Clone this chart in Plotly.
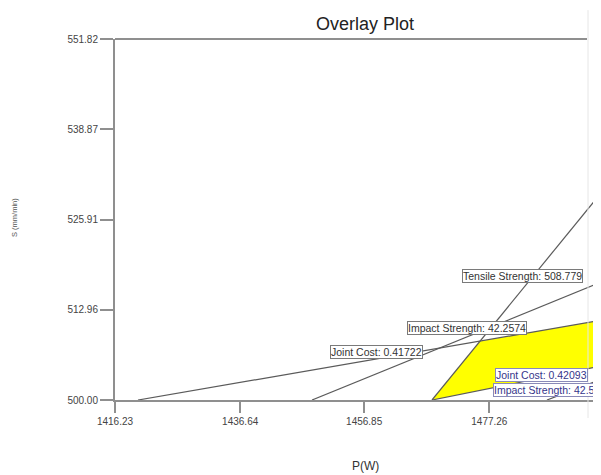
import plotly.graph_objects as go

# ---------------- data ----------------
x_ticks = [1416.23, 1436.64, 1456.85, 1477.26, 1497.67]
y_ticks = [500.00, 512.96, 525.91, 538.87, 551.82]
x_range = [1416.23, 1495.46]
y_range = [500.00, 551.82]

# contour lines of the overlay plot (P(W), S)
joint_cost_lo_x = [1419.98, 1495.46]
joint_cost_lo_y = [500.00, 511.44]
joint_cost_hi_x = [1467.91, 1495.46]
joint_cost_hi_y = [500.00, 504.87]
tensile_x = [1467.91, 1495.46]
tensile_y = [500.00, 529.72]
impact_lo_x = [1448.35, 1495.46]
impact_lo_y = [500.00, 516.91]
impact_hi_x = [1486.65, 1495.46]
impact_hi_y = [500.00, 502.95]

# feasible (yellow) region
region_x = [1467.91, 1475.74, 1495.46, 1495.46, 1467.91]
region_y = [500.00, 508.45, 511.44, 504.87, 500.00]

# flag labels
flag_texts = ["Tensile Strength: 508.779", "Impact Strength: 42.2574",
              "Joint Cost: 0.41722", "Joint Cost: 0.42093",
              "Impact Strength: 42.5533"]
flag_x = [1472.80, 1463.83, 1451.28, 1478.18, 1477.85]
flag_y = [517.78, 510.29, 506.91, 503.60, 501.37]
flag_selected = [False, False, False, True, True]

title = "Overlay Plot"
x_title = "P(W)"
y_title = "S (mm/min)"

# ---------------- figure ----------------
PAGE = 8                      # default body margin of the page
W, H = 601 - PAGE, 475 - PAGE
ML, MR, MT, MB = 115 - PAGE, 0, 39 - PAGE, 75
FONT = "Arial, Liberation Sans, sans-serif"
AX = "#8f8f8f"
LINE = "#5a5a5a"

plot_w = W - ML - MR
plot_h = H - MT - MB

fig = go.Figure()
fig.add_trace(go.Scatter(x=region_x, y=region_y, mode="lines", fill="toself",
                         fillcolor="#ffff00", line=dict(width=0), hoverinfo="skip",
                         showlegend=False))
for xs, ys in [(joint_cost_lo_x, joint_cost_lo_y), (joint_cost_hi_x, joint_cost_hi_y),
               (tensile_x, tensile_y), (impact_lo_x, impact_lo_y),
               (impact_hi_x, impact_hi_y)]:
    fig.add_trace(go.Scatter(x=xs, y=ys, mode="lines",
                             line=dict(color=LINE, width=1.2),
                             hoverinfo="skip", showlegend=False))

for t, fx, fy, sel in zip(flag_texts, flag_x, flag_y, flag_selected):
    fig.add_annotation(x=fx, y=fy, xref="x", yref="y", text=t, showarrow=False,
                       xanchor="left", yanchor="middle",
                       font=dict(family=FONT, size=10.5,
                                 color="#35358a" if sel else "#333333"),
                       bgcolor="white",
                       bordercolor="#8a8ab8" if sel else "#7a7a7a",
                       borderwidth=1, borderpad=0)

x_scale = plot_w / (x_range[1] - x_range[0])

# tick label of the last (off-range) tick, partly visible at the right edge
last_px = (x_ticks[-1] - x_range[0]) * x_scale
fig.add_annotation(x=last_px / plot_w, y=-0.06, xref="paper", yref="paper",
                   text=f"{x_ticks[-1]:.2f}", showarrow=False, xanchor="center",
                   yanchor="middle", font=dict(family=FONT, size=10, color="#444"))

# x title (page coords: centre x 365, y 466)
fig.add_annotation(x=(365 - 115) / plot_w, y=(400 - 466) / plot_h,
                   xref="paper", yref="paper",
                   text=x_title, showarrow=False, xanchor="center", yanchor="middle",
                   font=dict(family=FONT, size=12, color="#333"))
# y title (page coords: centre x 14, y 218)
fig.add_annotation(x=(14 - 115) / plot_w, y=(400 - 218) / plot_h,
                   xref="paper", yref="paper", xanchor="center", yanchor="middle",
                   text=y_title, showarrow=False, textangle=-90,
                   font=dict(family=FONT, size=7.5, color="#555"))

# top border (ends before right edge as in reference)
fig.add_shape(type="line", xref="paper", yref="paper", x0=0, x1=(587 - 115) / plot_w,
              y0=1, y1=1, line=dict(color=AX, width=2))
# faint vertical line near right edge
fig.add_shape(type="line", xref="paper", yref="paper", x0=(588 - 115) / plot_w,
              x1=(588 - 115) / plot_w, y0=-0.05, y1=1.08,
              line=dict(color="#e6e6e6", width=1))

fig.update_layout(
    width=W, height=H,
    margin=dict(l=ML, r=MR, t=MT, b=MB, pad=0),
    paper_bgcolor="white", plot_bgcolor="white",
    title=dict(text=title, x=(365 - PAGE) / W, xref="container", xanchor="center",
               y=1 - (24 - PAGE) / H, yref="container", yanchor="middle",
               font=dict(family=FONT, size=18, color="#222")),
    font=dict(family=FONT, size=10, color="#444"),
    showlegend=False,
    xaxis=dict(range=x_range, tickvals=x_ticks, ticktext=[f"{v:.2f}" for v in x_ticks],
               showgrid=False, zeroline=False, showline=True, linecolor=AX,
               linewidth=2, ticks="outside", ticklen=11, tickcolor=AX, tickwidth=1.5,
               tickfont=dict(family=FONT, size=10, color="#444")),
    yaxis=dict(range=y_range, tickvals=y_ticks, ticktext=[f"{v:.2f}" for v in y_ticks],
               showgrid=False, zeroline=False, showline=True, linecolor=AX,
               linewidth=2, ticks="outside", ticklen=13, tickcolor=AX, tickwidth=1.5,
               tickfont=dict(family=FONT, size=10, color="#444")),
)

fig.write_html("out.html")
